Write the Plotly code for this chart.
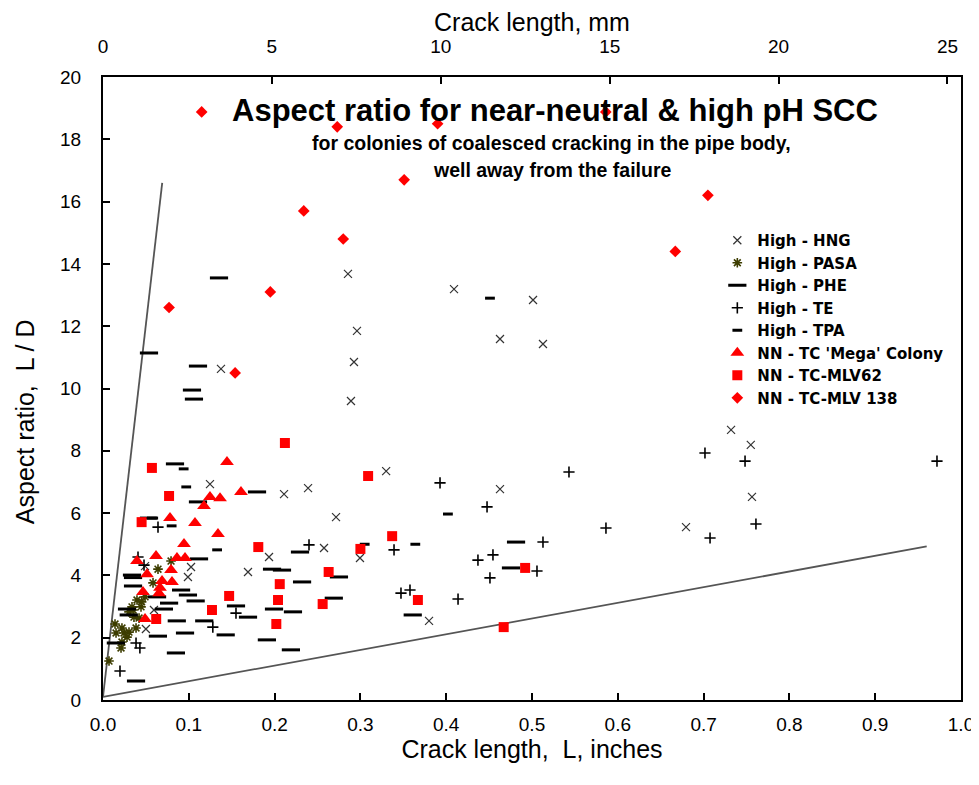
import plotly.graph_objects as go

# ---------------- data (crack length in inches, aspect ratio L/D) ----------------
hng_x = [0.2855, 0.4091, 0.5012, 0.296, 0.4627, 0.5128, 0.2925, 0.289, 0.1375, 0.1247,
         0.211, 0.239, 0.33, 0.2716, 0.4627, 0.2576, 0.2995, 0.38, 0.732, 0.755,
         0.7564, 0.6795, 0.1935, 0.169, 0.1026, 0.099, 0.0594, 0.050, 0.049]
hng_y = [13.68, 13.19, 12.84, 11.85, 11.59, 11.43, 10.85, 9.6, 10.63, 6.93,
         6.61, 6.8, 7.35, 5.87, 6.77, 4.88, 4.56, 2.54, 8.67, 8.19,
         6.52, 5.55, 4.59, 4.11, 4.27, 3.95, 2.89, 2.28, 4.3]

pasa_x = [0.0793, 0.0641, 0.0583, 0.049, 0.0396, 0.0443, 0.0338, 0.0303, 0.0361, 0.042,
          0.014, 0.0221, 0.0152, 0.0245, 0.0303, 0.0385, 0.028, 0.0221, 0.021, 0.007,
          0.035, 0.045]
pasa_y = [4.46, 4.2, 3.76, 3.31, 3.21, 2.99, 2.99, 2.83, 2.66, 2.63,
          2.44, 2.31, 2.15, 2.15, 2.18, 2.31, 2.02, 1.86, 1.67, 1.25,
          2.89, 3.15]

phe_x = [0.1352, 0.0536, 0.1107, 0.1037, 0.106, 0.0839, 0.1795, 0.1107, 0.0536, 0.1119,
         0.2296, 0.197, 0.2086, 0.0338, 0.035, 0.063, 0.091, 0.099, 0.108, 0.077,
         0.071, 0.028, 0.030, 0.086, 0.118, 0.0956, 0.064, 0.015, 0.085, 0.0385,
         0.155, 0.169, 0.143, 0.1993, 0.191, 0.232, 0.2214, 0.219, 0.275, 0.269,
         0.361, 0.4814, 0.4755, 0.035]
phe_y = [13.55, 11.14, 10.72, 9.95, 9.66, 7.58, 6.68, 6.36, 5.84, 4.53,
         4.75, 4.2, 4.17, 4.01, 3.66, 3.31, 3.53, 3.37, 3.18, 3.11,
         2.92, 2.92, 2.73, 2.54, 2.54, 2.15, 2.05, 1.83, 1.51, 0.61,
         3.02, 2.66, 2.09, 2.92, 1.93, 3.79, 2.83, 1.61, 3.95, 3.27,
         2.73, 5.07, 4.24, 3.93]

te_x = [0.2401, 0.3392, 0.3928, 0.4476, 0.4545, 0.437, 0.451, 0.5128, 0.5058, 0.5431,
        0.3473, 0.3578, 0.4138, 0.5862, 0.7016, 0.7483, 0.761, 0.7075, 0.972, 0.155,
        0.128, 0.0641, 0.0408, 0.0478, 0.0385, 0.043, 0.0198]
te_y = [4.98, 4.82, 6.97, 6.2, 4.66, 4.49, 3.92, 5.07, 4.14, 7.32,
        3.43, 3.53, 3.24, 5.52, 7.93, 7.67, 5.65, 5.2, 7.67, 2.79,
        2.34, 5.55, 4.59, 4.33, 1.83, 1.67, 0.93]

tpa_x = [0.094, 0.097, 0.08, 0.133, 0.305, 0.364, 0.402, 0.451, 0.057]
tpa_y = [7.42, 6.84, 5.59, 4.82, 5.0, 5.0, 5.97, 12.9, 5.84]

mega_x = [0.1445, 0.1247, 0.1364, 0.1608, 0.1177, 0.0781, 0.1072, 0.134, 0.0944, 0.0618,
          0.0862, 0.0956, 0.0396, 0.0513, 0.0793, 0.0688, 0.0804, 0.0664, 0.0653, 0.0466,
          0.049]
mega_y = [7.64, 6.52, 6.48, 6.68, 6.23, 5.84, 5.68, 5.33, 5.01, 4.62,
          4.56, 4.56, 4.46, 4.04, 4.17, 3.82, 3.79, 3.6, 3.43, 3.47,
          2.6]

mlv62_x = [0.057, 0.077, 0.045, 0.212, 0.309, 0.181, 0.337, 0.300, 0.492, 0.263,
           0.206, 0.256, 0.367, 0.204, 0.202, 0.147, 0.127, 0.062, 0.467]
mlv62_y = [7.45, 6.55, 5.71, 8.25, 7.19, 4.91, 5.26, 4.85, 4.24, 4.11,
           3.72, 3.08, 3.21, 3.21, 2.44, 3.34, 2.89, 2.6, 2.34]

mlv138_x = [0.115, 0.273, 0.39, 0.586, 0.351, 0.234, 0.28, 0.195, 0.077, 0.154, 0.667, 0.705]
mlv138_y = [18.88, 18.4, 18.5, 18.88, 16.7, 15.7, 14.8, 13.1, 12.6, 10.5, 14.4, 16.2]

# bounding lines of the data envelope
steep_x = [0.0, 0.069]
steep_y = [0.1, 16.6]
shallow_x = [0.0, 0.96]
shallow_y = [0.1, 4.93]

x_ticks = [0.0, 0.1, 0.2, 0.3, 0.4, 0.5, 0.6, 0.7, 0.8, 0.9, 1.0]
mm_ticks = [0, 5, 10, 15, 20, 25]
y_ticks = [0, 2, 4, 6, 8, 10, 12, 14, 16, 18, 20]

FONT = "Liberation Sans, Arial, sans-serif"

fig = go.Figure()

fig.add_trace(go.Scatter(x=steep_x, y=steep_y, mode="lines", line=dict(color="#555555", width=1.8),
                         showlegend=False, hoverinfo="skip"))
fig.add_trace(go.Scatter(x=shallow_x, y=shallow_y, mode="lines", line=dict(color="#555555", width=1.8),
                         showlegend=False, hoverinfo="skip"))

def add(name, xs, ys, symbol, size, color, lw=1.0):
    fig.add_trace(go.Scatter(
        x=xs, y=ys, mode="markers", name=name,
        marker=dict(symbol=symbol, size=size, color=color,
                    line=dict(width=lw, color=color))))

add("High - HNG", hng_x, hng_y, "x-thin", 8, "#333333", lw=1.2)
add("High - PASA", pasa_x, pasa_y, "asterisk", 8, "#3d3d00", lw=1.6)
add("High - PHE", phe_x, phe_y, "line-ew", 13, "#000000", lw=3)
add("High - TE", te_x, te_y, "cross-thin", 8, "#000000", lw=1.6)
add("High - TPA", tpa_x, tpa_y, "line-ew", 7, "#000000", lw=3)
add("NN - TC 'Mega' Colony", mega_x, mega_y, "triangle-up", 12, "#ff0000", lw=0)
add("NN - TC-MLV62", mlv62_x, mlv62_y, "square", 10, "#ff0000", lw=0)
add("NN - TC-MLV 138", mlv138_x, mlv138_y, "diamond", 9, "#ff0000", lw=0)

# invisible trace to carry the top (mm) axis
fig.add_trace(go.Scatter(x=[0, 25.4], y=[0, 0], xaxis="x2", mode="markers",
                         marker=dict(opacity=0), showlegend=False, hoverinfo="skip"))

fig.update_layout(
    width=979, height=785,
    margin=dict(l=95, r=26, t=69, b=93),
    paper_bgcolor="white", plot_bgcolor="white",
    font=dict(family=FONT, color="black", size=19),
    xaxis=dict(range=[0, 1.0], tickvals=x_ticks, ticktext=[f"{v:.1f}" for v in x_ticks],
               ticks="inside", ticklen=7, tickwidth=1.5, tickcolor="black", automargin=False,
               showline=True, linecolor="black", linewidth=2, showgrid=False, zeroline=False,
               tickfont=dict(size=19), ticklabelstandoff=6,
               title=dict(text="Crack length,  L, inches", font=dict(size=25), standoff=0)),
    xaxis2=dict(range=[0, 25.4], overlaying="x", side="top", anchor="y", automargin=False,
                tickvals=mm_ticks, ticks="inside", ticklen=7, tickwidth=1.5, tickcolor="black",
                showline=True, linecolor="black", linewidth=2, showgrid=False, zeroline=False,
                tickfont=dict(size=19), ticklabelstandoff=14,
                title=dict(text="Crack length, mm", font=dict(size=25), standoff=0)),
    yaxis=dict(range=[0, 20], tickvals=y_ticks, ticks="inside", ticklen=7, tickwidth=1.5,
               tickcolor="black", showline=True, mirror=True, linecolor="black", linewidth=2,
               showgrid=False, zeroline=False, tickfont=dict(size=19), ticklabelstandoff=16,
               automargin=False),
    legend=dict(x=0.716, y=0.764, xanchor="left", yanchor="top", bgcolor="rgba(0,0,0,0)",
                font=dict(family="DejaVu Sans, sans-serif", size=15, weight="bold"),
                tracegroupgap=0, itemwidth=30),
    annotations=[
        dict(text="Aspect ratio,  L / D", xref="paper", yref="paper", textangle=-90,
             x=-0.0909, y=0.446, xanchor="center", yanchor="middle", showarrow=False,
             font=dict(size=25)),
        dict(text="Aspect ratio for near-neutral & high pH SCC", xref="paper", yref="paper",
             x=0.527, y=0.947, xanchor="center", yanchor="middle", showarrow=False,
             font=dict(size=31, weight="bold")),
        dict(text="for colonies of coalesced cracking in the pipe body,", xref="paper", yref="paper",
             x=0.523, y=0.894, xanchor="center", yanchor="middle", showarrow=False,
             font=dict(size=19.5, weight="bold")),
        dict(text="well away from the failure", xref="paper", yref="paper",
             x=0.523, y=0.851, xanchor="center", yanchor="middle", showarrow=False,
             font=dict(size=19.5, weight="bold")),
    ],
)

fig.write_html("out.html")
